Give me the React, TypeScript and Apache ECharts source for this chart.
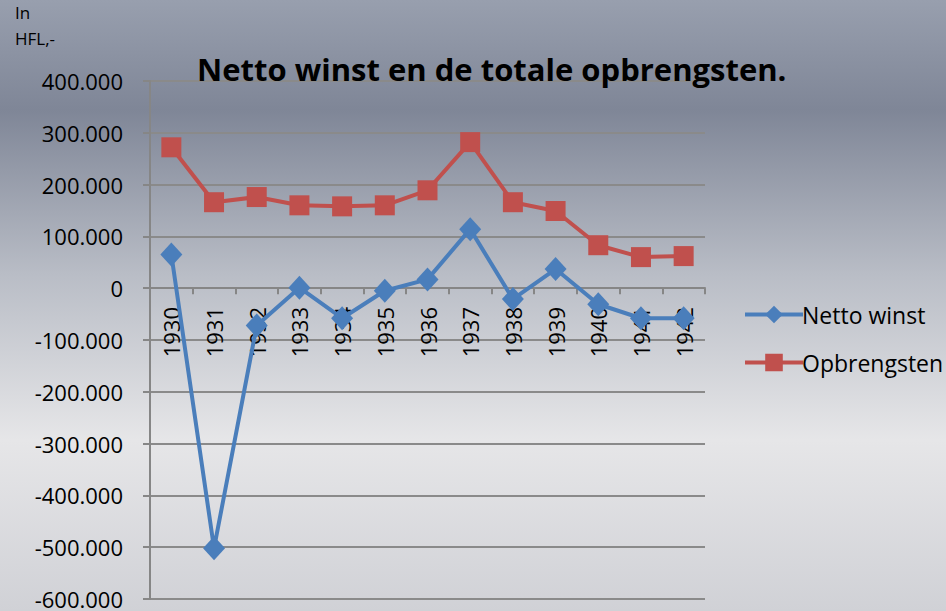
import React, { useEffect, useRef } from "react";
import * as echarts from "echarts";

const years = ["1930","1931","1932","1933","1934","1935","1936","1937","1938","1939","1940","1941","1942"];
const nettoWinst = [65000, -502000, -72000, 1000, -58000, -5000, 17000, 114000, -21000, 37000, -31000, -58000, -58000];
const opbrengsten = [272000, 166000, 176000, 160000, 158000, 160000, 189000, 282000, 166000, 149000, 83000, 60000, 62000];
const yMin = -600000;
const yMax = 400000;
const yStep = 100000;

function fmt(v: number): string {
  if (v === 0) return "0";
  const neg = v < 0;
  const a = Math.abs(v);
  const s = String(a).replace(/\B(?=(\d{3})+(?!\d))/g, ".");
  return (neg ? "-" : "") + s;
}

export default function App() {
  const ref = useRef<HTMLDivElement>(null);
  useEffect(() => {
    if (!ref.current) return;
    const chart = echarts.init(ref.current, null, { renderer: "svg" });
    const font = "'Open Sans', 'Liberation Sans', sans-serif";
    chart.setOption({
      animation: false,
      backgroundColor: {
        type: "linear", x: 0, y: 0, x2: 0, y2: 1,
        colorStops: [
          { offset: 0, color: "#989fae" },
          { offset: 0.18, color: "#7f8697" },
          { offset: 0.45, color: "#b9bdc6" },
          { offset: 0.72, color: "#e6e6e8" },
          { offset: 1, color: "#d0d1d6" },
        ],
      },
      textStyle: { fontFamily: font },
      title: {
        text: "Netto winst en de totale opbrengsten.",
        left: 192,
        top: 48,
        textStyle: { fontFamily: font, fontSize: 31, fontWeight: "bold", color: "#000" },
      },
      graphic: [
        { type: "text", left: 15, top: 4, style: { text: "In", fontFamily: font, fontSize: 17, fill: "#000" } },
        { type: "text", left: 15, top: 30, style: { text: "HFL,-", fontFamily: font, fontSize: 17, fill: "#000" } },
      ],
      legend: {
        orient: "vertical",
        left: 738,
        top: 298,
        itemWidth: 58,
        itemHeight: 22,
        itemGap: 25,
        lineStyle: { width: 4 },
        textStyle: { fontFamily: font, fontSize: 23, color: "#000", padding: [0, 0, 0, -6] },
        data: ["Netto winst", "Opbrengsten"],
      },
      grid: { left: 150, right: 241, top: 81, bottom: 12, containLabel: false, outerBoundsMode: "none" },
      xAxis: {
        type: "category",
        data: years,
        boundaryGap: true,
        axisLine: { onZero: true, lineStyle: { color: "#868686", width: 2 } },
        axisTick: { show: true, length: 6, lineStyle: { color: "#868686", width: 2 } },
        axisLabel: { rotate: 90, margin: -292, fontSize: 22, color: "#000", fontFamily: font },
        z: 1,
      },
      yAxis: {
        type: "value",
        min: yMin,
        max: yMax,
        interval: yStep,
        axisLine: { show: true, lineStyle: { color: "#868686", width: 2 } },
        axisTick: { show: true, length: 7, lineStyle: { color: "#868686", width: 2 } },
        splitLine: { show: true, lineStyle: { color: "#8a8a8a", width: 2 } },
        axisLabel: { margin: 27, fontSize: 22, color: "#000", fontFamily: font, formatter: (v: number) => fmt(v) },
      },
      series: [
        {
          name: "Netto winst",
          type: "line",
          data: nettoWinst,
          symbol: "diamond",
          symbolSize: [22, 24],
          color: "#4a7ebb",
          lineStyle: { width: 4, color: "#4a7ebb" },
          itemStyle: { color: "#4a7ebb" },
          z: 3,
        },
        {
          name: "Opbrengsten",
          type: "line",
          data: opbrengsten,
          symbol: "rect",
          symbolSize: [20, 20],
          color: "#c0504d",
          lineStyle: { width: 4, color: "#c0504d" },
          itemStyle: { color: "#c0504d" },
          z: 3,
        },
      ],
    });
    return () => chart.dispose();
  }, []);
  return <div ref={ref} style={{ position: "fixed", left: 0, top: 0, width: 946, height: 611 }} />;
}
